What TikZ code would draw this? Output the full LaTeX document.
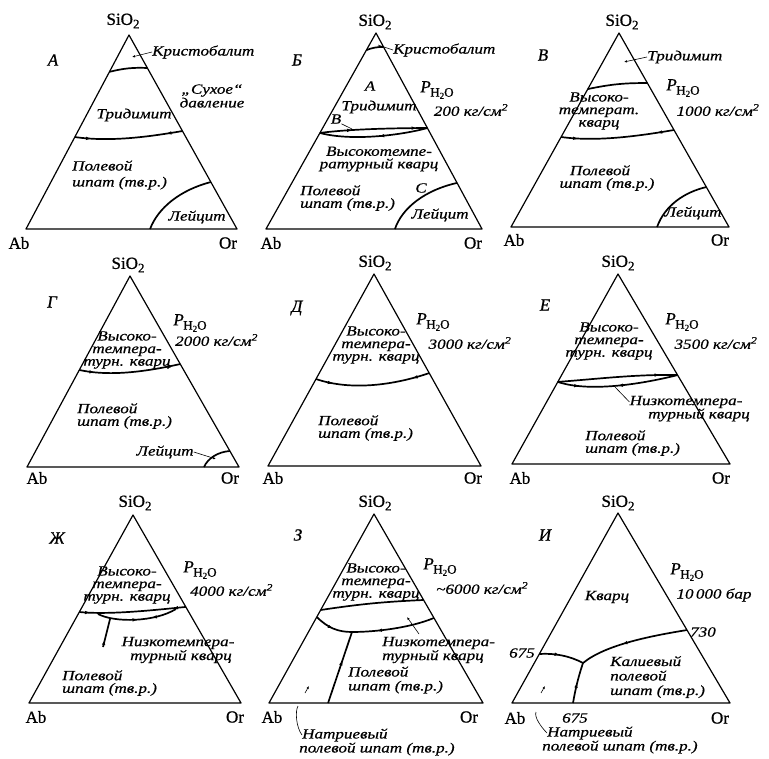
\documentclass[tikz,border=0pt]{standalone}
\usepackage{fontspec}
\setmainfont{Liberation Serif}
\newfontfamily\labf{Liberation Serif}[FakeStretch=1.22, FakeBold=0.6]
\newfontfamily\cmpf{Liberation Serif}[FakeBold=0.8]
\usetikzlibrary{decorations.markings,arrows.meta,calc}
\newcommand\mytipf{\arrow{Latex[length=5pt,width=3.6pt]}}
\newcommand\mytipb{\arrowreversed{Latex[length=5pt,width=3.6pt]}}
\newcommand\pho{{\itshape P}\kern-0.5pt\raisebox{-0.55ex}{\fontsize{13}{13}\selectfont H\raisebox{-0.35ex}{\fontsize{9}{9}\selectfont 2}O}}
\newcommand\sio{SiO\raisebox{-0.45ex}{\fontsize{13}{13}\selectfont 2}}
\newcommand\cmsq{см\textsuperscript{2}}
\tikzset{
 tri/.style={line width=1.2pt, line join=round},
 bnd/.style={line width=1.7pt},
 lead/.style={line width=0.6pt},
 leadtip/.style={-{Latex[length=3pt,width=2.5pt]}},
 lab/.style={font=\labf\itshape\fontsize{14}{12.6}\selectfont, inner sep=0pt},
 labw/.style={lab, anchor=west, align=left},
 labc/.style={lab, align=center},
 cmp/.style={font=\cmpf\fontsize{17}{17}\selectfont, inner sep=0pt},
 plet/.style={font=\cmpf\itshape\fontsize{17}{17}\selectfont, inner sep=0pt},
 marks/.style={postaction={decorate, decoration={markings, #1}}},
}
\begin{document}
\begin{tikzpicture}[x=1pt,y=-1pt]
\fill[white] (0,0) rectangle (769,759);
\useasboundingbox (0,0) rectangle (769,759);

% ---------- Panel A ----------
\coordinate (At) at (129,35); \coordinate (Al) at (26,229); \coordinate (Ar) at (237,229);
\draw[tri] (At) -- (Al) -- (Ar) -- cycle;
\coordinate (Ac1) at ($(At)!0.19!(Al)$); \coordinate (Ac2) at ($(At)!0.17!(Ar)$);
\draw[bnd] (Ac1) to[bend left=8] (Ac2);
\coordinate (Ab1) at ($(At)!0.526!(Al)$); \coordinate (Ab2) at ($(At)!0.495!(Ar)$);
\draw[bnd, marks={mark=at position 0.15 with {\mytipf}, mark=at position 0.85 with {\mytipb}}] (Ab1) .. controls +(35,5) and +(-35,6) .. (Ab2);
\coordinate (Al1) at ($(Al)!0.588!(Ar)$); \coordinate (Al2) at ($(At)!0.758!(Ar)$);
\draw[bnd] (Al1) .. controls (158,208) and (180,190) .. (Al2);
\node[cmp] (Asi) at (123,21) {\sio};
\node[plet] (Alet) at (53,60) {А};
\node[labw] (Akr) at (152,52) {Кристобалит};
\coordinate (Akp) at (132,57);
\draw[lead, leadtip] (Akr.west) -- (Akp);
\node[labc] (Asu) at (212,96) {„Сухое“\\давление};
\node[lab] (Atr) at (134,115) {Тридимит};
\node[labw, font=\labf\itshape\fontsize{14}{16}\selectfont] (Apo) at (72,175) {Полевой\\шпат (тв.р.)};
\node[lab] (Ale) at (197,217) {Лейцит};
\node[cmp] (Aab) at (19,243) {Ab};
\node[cmp] (Aor) at (228,243) {Or};

% ---------- Panel B ----------
\coordinate (Bt) at (376,33); \coordinate (Bl) at (266,229); \coordinate (Br) at (482,229);
\draw[tri] (Bt) -- (Bl) -- (Br) -- cycle;
\coordinate (Bc1) at ($(Bt)!0.087!(Bl)$); \coordinate (Bc2) at ($(Bt)!0.071!(Br)$);
\draw[bnd] (Bc1) to[bend left=10] (Bc2);
\coordinate (Bn1) at ($(Bt)!0.51!(Bl)$); \coordinate (Bn2) at ($(Bt)!0.485!(Br)$);
\draw[bnd, marks={mark=at position 0.3 with {\mytipf}, mark=at position 0.9 with {\mytipf}}] (Bn1) .. controls +(30,-4) and +(-30,0) .. (Bn2);
\draw[bnd, marks={mark=at position 0.55 with {\mytipb}}] (Bn1) .. controls +(30,8) and +(-30,8) .. (Bn2);
\coordinate (Bl1) at ($(Bl)!0.597!(Br)$); \coordinate (Bl2) at ($(Bt)!0.765!(Br)$);
\draw[bnd] (Bl1) .. controls (402,208) and (425,190) .. (Bl2);
\node[cmp] (Bsi) at (375,22) {\sio};
\node[plet] (Blet) at (297,60) {Б};
\node[labw] (Bkr) at (393,50) {Кристобалит};
\coordinate (Bkp) at (378,45);
\draw[lead] (Bkr.west) -- (Bkp);
\node[lab] (BA) at (370,86) {А};
\node[cmp] (Bp) at (437,90) {\pho};
\node[lab] (Bpr) at (471,110) {200 кг/\cmsq};
\node[lab] (Btr) at (379,107) {Тридимит};
\node[lab] (BV) at (336,119) {В};
\coordinate (Bvp) at (352,129);
\draw[lead] (BV.south east) -- (Bvp);
\node[labc] (Bvy) at (379,159) {Высокотемпе-\\ратурный кварц};
\node[labw] (Bpo) at (300,198) {Полевой\\шпат (тв.р.)};
\node[lab] (BC) at (421,188) {С};
\node[lab] (Ble) at (440,215) {Лейцит};
\node[cmp] (Bab) at (271,243) {Ab};
\node[cmp] (Bor) at (473,243) {Or};

% ---------- Panel V ----------
\coordinate (Vt) at (619,33); \coordinate (Vl) at (511,227); \coordinate (Vr) at (729,227);
\draw[tri] (Vt) -- (Vl) -- (Vr) -- cycle;
\coordinate (Vc1) at ($(Vt)!0.289!(Vl)$); \coordinate (Vc2) at ($(Vt)!0.258!(Vr)$);
\draw[bnd] (Vc1) to[bend left=6] (Vc2);
\coordinate (Vb1) at ($(Vt)!0.536!(Vl)$); \coordinate (Vb2) at ($(Vt)!0.5!(Vr)$);
\draw[bnd, marks={mark=at position 0.15 with {\mytipf}, mark=at position 0.85 with {\mytipb}}] (Vb1) .. controls +(35,5) and +(-35,6) .. (Vb2);
\coordinate (Vl1) at ($(Vl)!0.67!(Vr)$); \coordinate (Vl2) at ($(Vt)!0.794!(Vr)$);
\draw[bnd] (Vl1) .. controls (665,205) and (685,192) .. (Vl2);
\node[cmp] (Vsi) at (622,22) {\sio};
\node[plet] (Vlet) at (543,55) {В};
\node[labw] (Vtr) at (647,57) {Тридимит};
\coordinate (Vtp) at (624,62);
\draw[lead, leadtip] (Vtr.west) -- (Vtp);
\node[cmp] (Vp) at (683,88) {\pho};
\node[lab] (Vpr) at (718,110) {1000 кг/\cmsq};
\node[labc] (Vvy) at (599,111) {Высоко-\\температ.\\кварц};
\node[labc] (Vpo) at (600,178) {Полевой\\\hspace*{14pt}шпат (тв.р.)};
\node[lab] (Vle) at (693,213) {Лейцит};
\node[cmp] (Vab) at (514,240) {Ab};
\node[cmp] (Vor) at (720,240) {Or};

% ---------- Panel G ----------
\coordinate (Gt) at (130,276); \coordinate (Gl) at (27,467); \coordinate (Gr) at (239,467);
\draw[tri] (Gt) -- (Gl) -- (Gr) -- cycle;
\coordinate (Gb1) at ($(Gt)!0.492!(Gl)$); \coordinate (Gb2) at ($(Gt)!0.461!(Gr)$);
\draw[bnd, marks={mark=at position 0.15 with {\mytipf}, mark=at position 0.85 with {\mytipb}}] (Gb1) .. controls +(32,7) and +(-32,7) .. (Gb2);
\coordinate (Gl1) at ($(Gl)!0.835!(Gr)$); \coordinate (Gl2) at ($(Gt)!0.916!(Gr)$);
\draw[bnd] (Gl1) .. controls (208,458) and (218,452) .. (Gl2);
\node[cmp] (Gsi) at (128,265) {\sio};
\node[plet] (Glet) at (52,302) {Г};
\node[cmp] (Gp) at (190,323) {\pho};
\node[labw] (Gpr) at (175,340) {2000 кг/\cmsq};
\node[labc] (Gvy) at (127,350) {Высоко-\\темпера-\\турн. кварц};
\node[labw] (Gpo) at (77,416) {Полевой\\шпат (тв.р.)};
\node[lab] (Gle) at (165,452) {Лейцит};
\coordinate (Glp) at (216,459);
\draw[lead, leadtip] (Gle.east) -- (Glp);
\node[cmp] (Gab) at (37,478) {Ab};
\node[cmp] (Gor) at (230,478) {Or};

% ---------- Panel D ----------
\coordinate (Dt) at (374,274); \coordinate (Dl) at (268,466); \coordinate (Dr) at (481,466);
\draw[tri] (Dt) -- (Dl) -- (Dr) -- cycle;
\coordinate (Db1) at ($(Dt)!0.547!(Dl)$); \coordinate (Db2) at ($(Dt)!0.516!(Dr)$);
\draw[bnd, marks={mark=at position 0.15 with {\mytipf}, mark=at position 0.85 with {\mytipb}}] (Db1) .. controls +(35,12) and +(-35,12) .. (Db2);
\node[cmp] (Dsi) at (375,263) {\sio};
\node[plet] (Dlet) at (297,308) {Д};
\node[cmp] (Dp) at (433,322) {\pho};
\node[lab] (Dpr) at (470,343) {3000 кг/\cmsq};
\node[labc] (Dvy) at (376,345) {Высоко-\\темпера-\\турн. кварц};
\node[labw] (Dpo) at (318,428) {Полевой\\шпат (тв.р.)};
\node[cmp] (Dab) at (273,478) {Ab};
\node[cmp] (Dor) at (473,478) {Or};

% ---------- Panel E ----------
\coordinate (Et) at (618,274); \coordinate (El) at (512,464); \coordinate (Er) at (730,464);
\draw[tri] (Et) -- (El) -- (Er) -- cycle;
\coordinate (Eb1) at ($(Et)!0.568!(El)$); \coordinate (Eb2) at ($(Et)!0.532!(Er)$);
\draw[bnd, marks={mark=at position 0.85 with {\mytipf}}] (Eb1) .. controls +(40,-3) and +(-40,-1) .. (Eb2);
\draw[bnd, marks={mark=at position 0.18 with {\mytipf}, mark=at position 0.5 with {\mytipb}}] (Eb1) .. controls +(30,10) and +(-40,10) .. (Eb2);
\node[cmp] (Esi) at (618,263) {\sio};
\node[plet] (Elet) at (545,305) {Е};
\node[cmp] (Ep) at (682,322) {\pho};
\node[lab] (Epr) at (716,343) {3500 кг/\cmsq};
\node[labc] (Evy) at (609,341) {Высоко-\\темпера-\\турн. кварц};
\node[lab] (En1) at (686,402) {Низкотемпера-};
\node[lab] (En2) at (699,415) {турный кварц};
\coordinate (Enp) at (615,387);
\draw[lead] (En1.west) -- (Enp);
\node[labw] (Epo) at (585,443) {Полевой\\шпат (тв.р.)};
\node[cmp] (Eab) at (520,478) {Ab};
\node[cmp] (Eor) at (721,478) {Or};

% ---------- Panel J ----------
\coordinate (Jt) at (133,515); \coordinate (Jl) at (29,703); \coordinate (Jr) at (241,703);
\draw[tri] (Jt) -- (Jl) -- (Jr) -- cycle;
\coordinate (Jb1) at ($(Jt)!0.516!(Jl)$); \coordinate (Jb2) at ($(Jt)!0.489!(Jr)$);
\draw[bnd, marks={mark=at position 0.1 with {\mytipf}, mark=at position 0.88 with {\mytipb}}] (Jb1) .. controls +(30,3) and +(-30,3) .. (Jb2);
\coordinate (Jm1) at (98,614); \coordinate (Jm2) at (176,609);
\draw[bnd, marks={mark=at position 0.5 with {\mytipf}, mark=at position 0.68 with {\mytipb}}] (Jm1) .. controls (115,623) and (155,622) .. (Jm2);
\coordinate (Js1) at (110,619); \coordinate (Js2) at (103,647);
\draw[bnd, marks={mark=at position 0.75 with {\mytipb}}] (Js1) -- (Js2);
\node[cmp] (Jsi) at (135,503) {\sio};
\node[plet] (Jlet) at (57,538) {Ж};
\node[cmp] (Jp) at (200,570) {\pho};
\node[labw] (Jpr) at (190,590) {4000 кг/\cmsq};
\node[labc] (Jvy) at (127,585) {Высоко-\\темпера-\\турн. кварц};
\node[labc] (Jn) at (178,650) {Низкотемпера-\\\hspace*{6pt}турный кварц};
\node[labw] (Jpo) at (62,683) {Полевой\\шпат (тв.р.)};
\node[cmp] (Jab) at (36,717) {Ab};
\node[cmp] (Jor) at (235,717) {Or};

% ---------- Panel Z ----------
\coordinate (Zt) at (374,514); \coordinate (Zl) at (269,703); \coordinate (Zr) at (483,703);
\draw[tri] (Zt) -- (Zl) -- (Zr) -- cycle;
\coordinate (Zu1) at ($(Zt)!0.508!(Zl)$); \coordinate (Zu2) at ($(Zt)!0.455!(Zr)$);
\draw[bnd] (Zu1) to[bend left=3] (Zu2);
\coordinate (Zw1) at ($(Zt)!0.545!(Zl)$); \coordinate (Zw2) at ($(Zt)!0.55!(Zr)$);
\coordinate (Zj) at (352,632);
\draw[bnd, marks={mark=at position 0.5 with {\mytipf}}] (Zw1) .. controls (328,628) and (338,632) .. (Zj);
\draw[bnd, marks={mark=at position 0.3 with {\mytipb}}] (Zj) .. controls (375,632) and (410,628) .. (Zw2);
\coordinate (Zb) at ($(Zl)!0.276!(Zr)$);
\draw[bnd, marks={mark=at position 0.6 with {\mytipf}}] (Zb) -- (Zj);
\coordinate (Zq1) at (419,634); \coordinate (Zq2) at (407,617);
\draw[lead, leadtip] (Zq1) -- (Zq2);
\coordinate (Zr1) at (305,693); \coordinate (Zr2) at (309,686);
\draw[lead, leadtip] (Zr1) -- (Zr2);
\node[cmp] (Zsi) at (375,503) {\sio};
\node[plet] (Zlet) at (298,535) {З};
\node[cmp] (Zp) at (440,567) {\pho};
\node[labw] (Zpr) at (436,588) {\textasciitilde6000 кг/\cmsq};
\node[labc] (Zvy) at (376,582) {Высоко-\\темпера-\\турн. кварц};
\node[labw] (Zn) at (382,650) {Низкотемпера-\\турный кварц};
\node[labw, font=\labf\itshape\fontsize{14}{14}\selectfont] (Zpo) at (348,680) {Полевой\\шпат (тв.р.)};
\node[labw] (Zna1) at (302,735) {Натриевый};
\node[labw] (Zna2) at (299,749) {полевой шпат (тв.р.)};
\coordinate (Znp) at (298,706);
\draw[lead] (Zna1.west) .. controls +(-6,-8) and +(-3,5) .. (Znp);
\node[cmp] (Zab) at (272,717) {Ab};
\node[cmp] (Zor) at (469,717) {Or};

% ---------- Panel I ----------
\coordinate (It) at (618,513); \coordinate (Il) at (512,703); \coordinate (Ir) at (730,703);
\draw[tri] (It) -- (Il) -- (Ir) -- cycle;
\coordinate (IR) at ($(It)!0.616!(Ir)$); \coordinate (IL) at ($(It)!0.742!(Il)$);
\coordinate (Ij) at (583,663); \coordinate (IB) at ($(Il)!0.28!(Ir)$);
\draw[bnd, marks={mark=at position 0.6 with {\mytipf}}] (IR) .. controls (650,636) and (605,645) .. (Ij);
\draw[bnd, marks={mark=at position 0.45 with {\mytipf}}] (IL) .. controls (555,653) and (570,656) .. (Ij);
\draw[bnd, marks={mark=at position 0.5 with {\mytipf}}] (IB) .. controls (576,685) and (580,672) .. (Ij);
\coordinate (Is1) at (541,693); \coordinate (Is2) at (545,686);
\draw[lead, leadtip] (Is1) -- (Is2);
\node[cmp] (Isi) at (618,503) {\sio};
\node[plet] (Ilet) at (545,535) {И};
\node[cmp] (Ip) at (687,572) {\pho};
\node[lab] (Ipr) at (714,595) {10\,000 бар};
\node[lab] (Ikv) at (607,597) {Кварц};
\node[lab] (I730) at (703,632) {730};
\node[lab] (I675a) at (522,653) {675};
\node[lab] (I675b) at (575,718) {675};
\node[labw, font=\labf\itshape\fontsize{14}{14.5}\selectfont] (Ik) at (610,677) {Калиевый\\полевой\\шпат (тв.р.)};
\node[labw] (Ina1) at (547,733) {Натриевый};
\node[labw] (Ina2) at (542,747) {полевой шпат (тв.р.)};
\coordinate (Inp) at (536,712);
\draw[lead] (Ina1.west) .. controls +(-6,-6) and +(-2,5) .. (Inp);
\node[cmp] (Iab) at (515,718) {Ab};
\node[cmp] (Ior) at (720,718) {Or};
\end{tikzpicture}
\end{document}
